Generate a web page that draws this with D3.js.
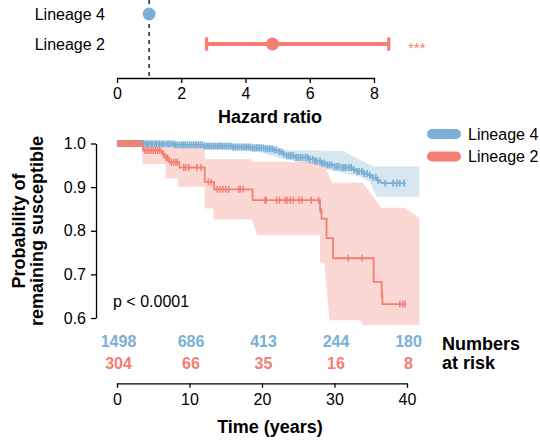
<!DOCTYPE html>
<html>
<head>
<meta charset="utf-8">
<script src="https://cdn.jsdelivr.net/npm/d3@7"></script>
<style>
  html, body { margin: 0; padding: 0; background: #ffffff; }
  svg { display: block; font-family: "Liberation Sans", Arial, Helvetica, sans-serif; }
</style>
</head>
<body>
<script>
// ---------------- Data ----------------
const groups = ["Lineage 4", "Lineage 2"];
const groupColors = ["#7bafd5", "#f47e72"];

// Hazard ratio (forest plot)
const hrEstimate = [1.0, 4.84];
const hrLower = [null, 2.79];
const hrUpper = [null, 8.46];
const hrSignif = ["", "***"];
const hrTicks = [0, 2, 4, 6, 8];

// Kaplan–Meier step curves (time in years, survival after step)
const l4StepTime = [0, 4.0, 8.0, 12.0, 16.0, 18.5, 20.5, 21.5, 22.3, 22.8, 23.3, 24.5, 26.5, 27.3, 28.2, 28.8, 30.0, 31.0, 32.4, 33.0, 34.0, 34.6, 35.2, 35.8, 36.3, 36.6];
const l4StepSurv = [1.0, 0.999, 0.997, 0.994, 0.992, 0.990, 0.988, 0.985, 0.981, 0.976, 0.972, 0.968, 0.964, 0.960, 0.955, 0.951, 0.947, 0.945, 0.940, 0.936, 0.931, 0.927, 0.922, 0.916, 0.911, 0.909];
const l4EndTime = 39.8;

const l2StepTime = [0, 3.6, 6.2, 6.6, 7.2, 8.6, 12.1, 13.4, 18.7, 28.0, 28.2, 28.9, 29.8, 35.4, 36.5, 36.6];
const l2StepSurv = [1.0, 0.984, 0.976, 0.967, 0.957, 0.945, 0.912, 0.895, 0.870, 0.849, 0.828, 0.783, 0.737, 0.683, 0.656, 0.632];
const l2EndTime = 39.8;

// Censoring times
const l4Censor = [0.1,0.3,0.5,0.7,0.9,1.1,1.3,1.5,1.7,1.9,2.1,2.3,2.6,2.8,3.0,3.3,3.5,3.7,4.0,4.2,4.4,4.7,4.9,5.2,5.4,5.7,5.9,6.2,6.4,6.7,7.0,7.2,7.5,7.8,8.0,8.3,8.6,8.9,9.1,9.4,9.7,10.0,10.3,10.6,10.9,11.2,11.5,11.8,12.1,12.4,12.7,13.0,13.3,13.6,13.9,14.2,14.5,14.8,15.1,15.4,15.7,16.0,16.3,16.6,16.9,17.2,17.5,17.8,18.1,18.4,18.7,19.0,19.3,19.6,19.9,20.2,20.5,20.8,21.1,21.4,21.7,22.0,22.4,22.7,23.0,23.4,23.7,24.0,24.3,24.7,25.0,25.3,25.6,26.0,26.3,26.6,27.0,27.3,27.6,28.0,28.3,28.6,29.0,29.3,29.6,30.0,30.3,30.6,31.0,31.3,31.6,32.0,32.3,32.7,33.1,33.4,33.8,34.1,34.5,34.9,35.3,35.7,36.0,37.0,38.1,38.6,39.0,39.6];
const l2Censor = [0.2,0.4,0.6,0.8,1.0,1.2,1.4,1.6,1.8,2.0,2.2,2.4,2.6,2.8,3.0,3.2,3.8,4.1,4.4,4.7,5.0,5.3,5.6,5.9,6.4,6.8,7.0,7.5,7.8,8.1,8.3,9.2,9.5,9.9,11.0,11.6,12.6,13.0,13.8,14.2,14.6,15.0,15.4,16.8,17.0,17.4,20.4,20.6,22.0,22.4,23.2,23.5,23.9,24.3,25.1,25.5,26.8,27.8,28.05,31.9,33.8,36.55,39.0,39.4,39.7];

// Confidence bands: upper and lower edges (time, probability)
const l4UpperT = [0, 5, 10, 15, 19.7, 22.5, 31.2, 32.6, 35.4, 41.7];
const l4UpperP = [1.0, 1.0, 0.999, 0.998, 0.997, 0.985, 0.983, 0.970, 0.947, 0.947];
const l4LowerT = [0, 5, 10, 15, 19.7, 22.5, 27.5, 29.8, 33.5, 34.9, 35.8, 41.7];
const l4LowerP = [1.0, 0.996, 0.991, 0.987, 0.980, 0.966, 0.951, 0.937, 0.924, 0.912, 0.878, 0.878];

const l2UpperT = [3.5, 12.1, 12.1, 18.6, 18.6, 28.4, 29.7, 33.9, 36.5, 39.7, 41.7];
const l2UpperP = [0.990, 0.990, 0.964, 0.964, 0.958, 0.958, 0.910, 0.910, 0.853, 0.853, 0.830];
const l2LowerT = [3.5, 6.7, 6.7, 8.4, 8.4, 12.1, 12.1, 13.3, 13.3, 18.6, 19.3, 28.0, 28.0, 28.6, 29.3, 33.5, 34.0, 41.7];
const l2LowerP = [0.953, 0.953, 0.920, 0.920, 0.901, 0.901, 0.851, 0.851, 0.826, 0.826, 0.790, 0.790, 0.725, 0.725, 0.595, 0.595, 0.584, 0.584];

// Numbers at risk
const riskTimes = [0, 10, 20, 30, 40];
const l4Risk = [1498, 686, 413, 244, 180];
const l2Risk = [304, 66, 35, 16, 8];

const kmXTicks = [0, 10, 20, 30, 40];
const kmYTicks = [0.6, 0.7, 0.8, 0.9, 1.0];

// ---------------- Drawing ----------------
const W = 540, H = 442;
const svg = d3.select("body").append("svg").attr("width", W).attr("height", H);

function styleAxis(g) {
  g.selectAll("path, line").attr("stroke", "#000").attr("stroke-width", 1.3);
  g.selectAll("text").attr("fill", "#000").style("font-size", "16px")
    .style("font-family", '"Liberation Sans", Arial, Helvetica, sans-serif');
}

// ---- Forest plot ----
const xHR = d3.scaleLinear().domain([0, 8]).range([117, 374]);
const yHR = d3.scalePoint().domain(groups).range([14, 44]);

svg.append("line")
  .attr("x1", xHR(1)).attr("x2", xHR(1))
  .attr("y1", 0).attr("y2", 78)
  .attr("stroke", "#000").attr("stroke-width", 1.3)
  .attr("stroke-dasharray", "4,4");

svg.append("g").attr("transform", "translate(0,78)")
  .call(d3.axisBottom(xHR).tickValues(hrTicks).tickSize(5).tickSizeOuter(0).tickPadding(4.5))
  .call(styleAxis);

svg.append("text").attr("x", 270).attr("y", 122.5)
  .attr("text-anchor", "middle").style("font-size", "18px").style("font-weight", "bold")
  .text("Hazard ratio");

groups.forEach((g, i) => {
  const y = yHR(g);
  svg.append("text").attr("x", 105).attr("y", y + 5.5)
    .attr("text-anchor", "end").style("font-size", "16px").attr("fill", "#000").text(g);
  if (hrLower[i] != null) {
    svg.append("line").attr("x1", xHR(hrLower[i])).attr("x2", xHR(hrUpper[i]))
      .attr("y1", y).attr("y2", y).attr("stroke", groupColors[i]).attr("stroke-width", 4);
    [hrLower[i], hrUpper[i]].forEach(v => {
      svg.append("line").attr("x1", xHR(v)).attr("x2", xHR(v))
        .attr("y1", y - 5.5).attr("y2", y + 5.5)
        .attr("stroke", groupColors[i]).attr("stroke-width", 3.2).attr("stroke-linecap", "round");
    });
  }
  svg.append("circle").attr("cx", xHR(hrEstimate[i])).attr("cy", y).attr("r", 6.5)
    .attr("fill", groupColors[i]);
  if (hrSignif[i]) {
    svg.append("text").attr("x", 408).attr("y", y + 8.5)
      .style("font-size", "15px").attr("fill", groupColors[i]).text(hrSignif[i]);
  }
});

// ---- KM plot ----
const xT = d3.scaleLinear().domain([0, 40]).range([117, 407]);
const yP = d3.scaleLinear().domain([0.6, 1.0]).range([318, 143.5]);

function bandPoly(ut, up, lt, lp) {
  const pts = ut.map((t, i) => [xT(t), yP(up[i])]);
  for (let i = lt.length - 1; i >= 0; i--) pts.push([xT(lt[i]), yP(lp[i])]);
  return pts;
}
const polyLine = d3.line();

svg.append("path").attr("d", polyLine(bandPoly(l4UpperT, l4UpperP, l4LowerT, l4LowerP)) + "Z")
  .attr("fill", groupColors[0]).attr("fill-opacity", 0.3);
svg.append("path").attr("d", polyLine(bandPoly(l2UpperT, l2UpperP, l2LowerT, l2LowerP)) + "Z")
  .attr("fill", groupColors[1]).attr("fill-opacity", 0.3);

function stepPts(times, surv, endT) {
  const pts = times.map((t, i) => [t, surv[i]]);
  pts.push([endT, surv[surv.length - 1]]);
  return pts;
}
const stepLine = d3.line().x(d => xT(d[0])).y(d => yP(d[1])).curve(d3.curveStepAfter);

function survAt(times, surv, t) {
  let s = surv[0];
  for (let i = 0; i < times.length; i++) { if (times[i] <= t) s = surv[i]; }
  return s;
}

const curves = [
  { times: l4StepTime, surv: l4StepSurv, end: l4EndTime, cens: l4Censor, color: groupColors[0], tw: 1.8 },
  { times: l2StepTime, surv: l2StepSurv, end: l2EndTime, cens: l2Censor, color: groupColors[1], tw: 1.5 }
];
curves.forEach(c => {
  svg.append("path").attr("d", stepLine(stepPts(c.times, c.surv, c.end)))
    .attr("fill", "none").attr("stroke", c.color).attr("stroke-width", 1.8);
  svg.append("g").selectAll("line").data(c.cens).join("line")
    .attr("x1", d => xT(d)).attr("x2", d => xT(d))
    .attr("y1", d => yP(survAt(c.times, c.surv, d)) - 3.5)
    .attr("y2", d => yP(survAt(c.times, c.surv, d)) + 3.5)
    .attr("stroke", c.color).attr("stroke-width", c.tw);
});

// Axes
svg.append("g").attr("transform", "translate(96,0)")
  .call(d3.axisLeft(yP).tickValues(kmYTicks).tickFormat(d3.format(".1f")).tickSize(5).tickSizeOuter(0).tickPadding(5))
  .call(styleAxis);

svg.append("g").attr("transform", "translate(0,383.3)")
  .call(d3.axisBottom(xT).tickValues(kmXTicks).tickSize(4.5).tickSizeOuter(0).tickPadding(6))
  .call(styleAxis);

svg.append("text").attr("x", 270).attr("y", 433)
  .attr("text-anchor", "middle").style("font-size", "18px").style("font-weight", "bold")
  .text("Time (years)");

const yTitle = svg.append("text").attr("transform", "translate(0,231) rotate(-90)")
  .attr("text-anchor", "middle").style("font-size", "18px").style("font-weight", "bold");
yTitle.append("tspan").attr("x", 0).attr("y", 25).text("Probability of");
yTitle.append("tspan").attr("x", 0).attr("y", 42.5).text("remaining susceptible");

svg.append("text").attr("x", 113).attr("y", 306.5)
  .style("font-size", "16px").text("p < 0.0001");

// Legend
groups.forEach((g, i) => {
  const cy = 134 + i * 22.5;
  svg.append("rect").attr("x", 427).attr("y", cy - 5).attr("width", 34).attr("height", 10)
    .attr("rx", 5).attr("fill", groupColors[i]);
  svg.append("text").attr("x", 468).attr("y", cy + 5.5)
    .style("font-size", "16px").text(g);
});

// Numbers at risk
[l4Risk, l2Risk].forEach((arr, i) => {
  svg.append("g").selectAll("text").data(arr).join("text")
    .attr("x", (d, j) => xT(riskTimes[j]) + 1.5)
    .attr("y", 347 + i * 22)
    .attr("text-anchor", "middle").style("font-size", "16px").style("font-weight", "bold")
    .attr("fill", groupColors[i]).text(d => d);
});
const nar = svg.append("text").style("font-size", "18px").style("font-weight", "bold");
nar.append("tspan").attr("x", 442).attr("y", 349.5).text("Numbers");
nar.append("tspan").attr("x", 442).attr("y", 368.5).text("at risk");
</script>
</body>
</html>
